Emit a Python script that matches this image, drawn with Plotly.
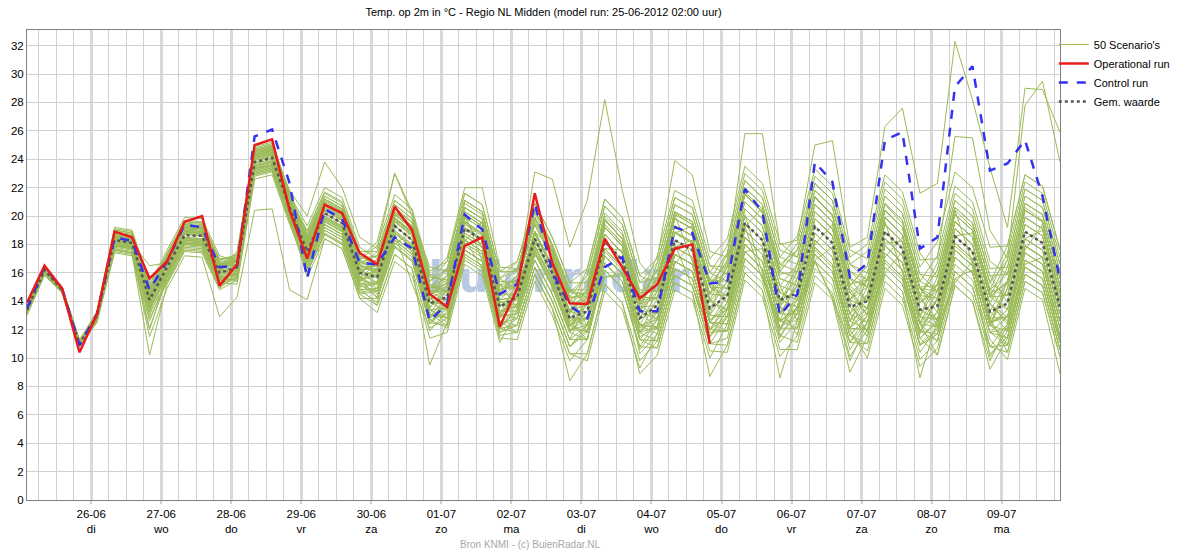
import pandas as pd
import plotly.graph_objects as go

# ---------------- data ----------------
run_start = "2012-06-25 02:00"
n_steps = 60
step = "6h"

day_labels = ["26-06", "27-06", "28-06", "29-06", "30-06", "01-07", "02-07",
              "03-07", "04-07", "05-07", "06-07", "07-07", "08-07", "09-07"]
day_dates = ["2012-06-26", "2012-06-27", "2012-06-28", "2012-06-29", "2012-06-30",
             "2012-07-01", "2012-07-02", "2012-07-03", "2012-07-04", "2012-07-05",
             "2012-07-06", "2012-07-07", "2012-07-08", "2012-07-09"]
weekday_labels = ["di", "wo", "do", "vr", "za", "zo", "ma",
                  "di", "wo", "do", "vr", "za", "zo", "ma"]

operational = [13.9, 16.5, 14.9, 10.4, 13.1, 18.9, 18.5, 15.6, 16.8, 19.6, 20.0, 15.1,
               16.6, 25.0, 25.4, 20.4, 17.0, 20.8, 20.2, 17.4, 16.6, 20.65, 19.0, 14.5,
               13.6, 17.9, 18.5, 12.2, 14.9, 21.6, 16.7, 13.85, 13.8, 18.4, 16.4, 14.2,
               15.2, 17.7, 18.0, 11.0]

control = [13.5, 16.4, 14.9, 10.9, 13.1, 18.5, 18.25, 14.8, 16.8, 19.4, 19.2, 16.4,
           16.5, 25.6, 26.1, 22.3, 15.6, 20.5, 19.8, 16.7, 16.6, 18.5, 17.7, 12.6,
           13.85, 20.1, 19.05, 14.5, 15.2, 20.9, 16.1, 13.7, 12.8, 16.4, 17.1, 13.3,
           13.3, 19.2, 18.8, 15.25, 15.4, 21.9, 20.3, 13.0, 14.5, 23.8, 22.4, 15.7,
           16.65, 25.35, 25.9, 17.7, 18.5, 29.1, 30.55, 23.2, 23.7, 25.35, 21.4, 15.5]

ens_mean = [13.4, 16.2, 14.8, 11.0, 13.0, 18.3, 18.1, 14.1, 16.4, 18.65, 18.6, 16.0,
            16.4, 23.8, 24.1, 20.6, 17.5, 20.2, 19.5, 16.0, 15.7, 19.3, 18.3, 13.85,
            14.3, 19.1, 18.3, 13.6, 14.3, 18.4, 16.0, 12.8, 13.3, 18.2, 16.9, 12.8,
            13.7, 18.3, 17.6, 13.5, 14.4, 19.5, 18.3, 14.1, 14.55, 19.25, 18.1, 13.6,
            14.0, 18.9, 17.7, 13.4, 13.65, 18.55, 17.5, 13.25, 13.85, 18.9, 18.1, 13.6]

scenarios = [
    [13.5,16.3,14.9,11.1, 13.2,18.9,18.7,14.8, 16.9,19.2,19.1,16.6, 16.9,24.5,24.8,21.5, 18.3,21.0,20.3,16.9, 16.4,20.3,19.2,14.9, 15.2,20.3,19.5,14.8, 15.3,19.8,17.3,14.2, 14.6,19.8,18.4,14.3, 15.1,20.2,19.4,15.3, 16.0,21.6,20.2,15.9, 16.1,21.4,20.0,15.2, 15.5,20.8,19.5,15.0, 15.1,20.4,19.2,14.6, 15.2,20.6,19.7,15.0],
    [13.3,16.1,14.8,10.9, 12.9,18.0,17.8,13.5, 15.9,18.2,18.1,15.4, 16.0,23.4,23.6,19.9, 16.7,19.4,18.7,15.1, 14.7,18.3,17.3,12.8, 13.8,18.6,17.8,13.0, 13.1,17.2,16.3,12.6, 11.3,16.2,14.9,10.6, 12.2,18.0,15.0,11.8, 11.9,17.0,15.8,11.4, 13.6,16.9,17.8,14.0, 11.8,16.7,15.5,11.0, 12.0,15.6,16.2,10.1, 11.9,16.9,16.1,11.4],
    [13.5,16.3,14.9,11.2, 13.2,18.8,18.6,14.8, 16.7,19.0,18.9,16.4, 17.0,24.4,24.7,21.5, 18.7,21.4,20.7,17.2, 16.5,20.1,19.1,14.7, 15.8,20.6,19.8,15.1, 14.8,18.9,16.5,13.3, 12.8,17.7,16.4,12.3, 14.7,19.3,18.6,14.5, 16.4,21.5,20.3,16.1, 17.6,22.3,21.1,16.6, 15.5,20.4,19.2,14.9, 14.2,19.1,18.0,13.8, 12.9,17.9,17.1,12.6],
    [13.2,16.0,14.7,10.9, 12.7,17.7,17.4,12.1, 15.6,17.9,17.8,15.2, 16.2,23.6,23.9,21.0, 17.9,20.6,19.9,15.5, 15.2,18.8,17.8,12.7, 13.1,17.9,17.1,12.4, 14.3,18.4,16.0,12.8, 14.3,19.2,17.9,13.8, 12.7,17.3,16.6,12.5, 13.9,19.0,17.8,13.6, 16.1,20.8,19.6,15.1, 16.5,21.4,20.2,15.9, 14.7,19.6,18.5,14.3, 14.4,19.4,18.6,14.1],
    [13.4,16.2,14.8,11.0, 13.1,18.5,18.3,14.3, 17.0,19.3,19.2,16.6, 17.3,24.7,25.0,21.5, 19.3,22.0,21.3,17.8, 17.0,20.6,19.6,15.2, 14.7,18.2,19.6,15.2, 13.5,17.6,15.2,12.0, 11.9,15.7,16.0,10.3, 11.7,16.3,15.6,11.5, 13.4,20.1,16.0,11.9, 14.6,19.3,18.1,13.6, 12.5,16.0,17.5,13.0, 15.7,20.6,19.5,15.3, 16.9,21.9,21.1,16.6],
    [13.3,16.1,14.7,10.9, 12.9,18.1,17.9,13.8, 16.5,18.8,18.7,16.1, 15.8,23.2,23.5,19.6, 16.0,18.7,18.0,14.5, 13.7,17.3,16.3,9.5, 12.5,17.3,16.5,11.8, 12.3,16.4,14.0,10.8, 12.3,17.2,15.9,11.8, 14.2,18.8,18.1,14.0, 15.4,20.5,19.3,15.1, 12.6,17.3,16.1,11.6, 13.0,17.9,16.7,12.4, 11.2,16.1,15.0,10.8, 10.4,15.4,14.6,10.1],
    [13.5,16.3,14.9,11.1, 13.1,18.7,18.5,14.9, 17.1,19.4,19.3,16.7, 16.7,24.1,24.4,21.5, 18.4,21.1,20.4,16.9, 17.9,21.5,20.5,16.1, 16.8,21.6,20.8,16.1, 16.1,20.2,17.8,14.6, 15.8,20.7,19.4,15.3, 16.7,21.3,20.6,16.5, 15.9,21.0,19.8,15.6, 15.1,19.8,18.6,14.1, 13.5,18.4,17.2,12.9, 12.7,17.6,16.5,12.3, 15.4,20.4,19.6,15.1],
    [13.1,15.9,14.7,10.8, 12.6,17.5,17.3,10.2, 15.2,17.5,17.4,14.8, 15.5,22.9,23.2,19.7, 17.0,19.7,19.0,15.5, 15.9,18.0,18.9,12.8, 14.0,18.8,18.0,13.3, 13.7,17.8,15.4,12.2, 13.8,18.7,17.4,13.3, 12.0,17.8,18.3,14.2, 12.9,18.0,16.8,12.6, 13.4,16.8,14.2,11.1, 11.0,15.9,14.7,10.4, 12.2,17.1,16.0,11.8, 12.1,18.4,19.0,14.5],
    [13.6,16.4,15.0,11.2, 13.3,19.2,19.0,15.3, 16.8,19.1,19.0,16.4, 17.5,24.9,25.2,21.7, 17.7,20.4,19.7,16.2, 15.3,18.9,17.9,13.5, 15.1,19.9,19.1,14.4, 15.5,23.1,22.6,17.8, 21.1,28.2,21.8,16.7, 15.2,19.8,19.1,15.0, 14.4,19.5,18.3,14.1, 13.6,18.3,17.1,12.6, 14.5,19.4,18.2,13.9, 15.2,20.1,19.0,14.8, 15.9,20.9,20.1,15.6],
    [13.4,16.2,14.8,11.0, 13.0,18.3,18.1,14.1, 16.2,18.5,18.4,15.8, 16.9,24.3,24.6,21.1, 16.7,19.4,18.7,15.2, 14.3,17.9,16.9,12.5, 12.3,17.1,16.3,11.6, 11.8,15.9,13.5,10.3, 10.3,15.2,13.9,9.8, 11.2,15.8,15.1,11.0, 10.9,16.0,14.8,10.6, 10.6,15.3,14.1,9.0, 11.5,16.4,15.2,10.9, 11.7,16.6,15.5,11.3, 9.9,14.9,14.1,8.9],
    [13.5,16.3,14.9,11.1, 13.2,18.8,18.6,14.8, 17.3,19.6,19.5,16.9, 17.1,24.5,24.8,21.4, 18.1,20.8,20.1,16.6, 16.0,19.6,18.6,14.2, 13.5,18.3,17.5,12.8, 14.7,18.8,16.4,13.2, 14.8,19.7,18.4,14.3, 16.2,20.8,20.1,16.0, 17.9,23.0,21.8,17.6, 17.1,21.8,20.6,16.1, 15.0,19.9,18.7,14.4, 16.7,21.6,20.5,16.3, 16.4,21.4,20.6,16.1],
    [13.2,16.0,14.7,10.9, 12.9,18.0,17.8,13.5, 15.8,18.1,18.0,15.4, 16.3,23.7,24.0,20.5, 17.7,20.4,19.7,16.2, 16.3,19.9,18.9,14.5, 15.3,20.1,19.3,14.6, 15.8,19.9,17.5,14.3, 14.3,19.2,17.9,13.8, 15.5,20.1,19.4,15.3, 16.6,21.7,20.5,16.3, 18.1,22.8,21.6,17.1, 18.0,22.9,21.7,17.4, 15.7,20.6,19.5,15.3, 17.9,22.9,22.1,17.6],
    [13.5,16.3,14.9,11.1, 13.1,18.6,18.4,14.6, 16.9,19.2,19.1,16.5, 17.2,24.6,24.9,21.4, 18.5,21.2,20.5,17.0, 17.2,20.8,19.8,15.4, 16.3,21.1,20.3,15.6, 16.8,20.9,18.5,15.3, 16.3,21.2,19.9,15.8, 17.0,23.9,22.9,17.5, 17.1,25.8,25.8,18.0, 18.3,25.0,25.3,17.8, 18.5,26.3,27.6,21.6, 22.3,32.3,28.2,23.4, 19.2,29.0,28.9,25.9],
    [13.4,16.2,14.8,11.0, 13.0,18.4,18.2,14.2, 16.6,18.9,18.8,16.2, 16.1,23.5,23.8,20.3, 17.2,19.9,19.2,15.7, 16.2,19.8,18.8,14.4, 15.1,19.9,19.1,14.4, 14.6,18.7,16.3,13.1, 14.5,19.4,18.1,14.0, 14.3,18.9,18.2,14.1, 16.4,21.5,20.3,16.1, 17.6,22.3,21.1,16.6, 17.5,22.4,21.2,16.9, 17.0,25.6,25.5,19.0, 17.0,27.8,29.5,23.8],
    [13.2,16.0,14.6,10.9, 12.8,17.9,17.7,13.3, 16.1,18.4,18.3,15.7, 15.4,22.8,23.1,19.6, 16.9,19.6,18.9,15.4, 16.3,19.9,18.9,14.5, 15.5,20.3,19.5,14.8, 15.1,18.0,17.9,12.3, 12.8,17.7,16.4,12.3, 12.2,16.8,16.1,12.0, 13.6,17.5,17.7,12.1, 13.1,17.8,16.6,12.1, 13.5,19.6,16.0,11.7, 14.2,19.1,18.0,13.8, 12.4,17.4,16.6,12.1],
    [13.0,15.8,14.6,10.8, 12.5,17.6,17.4,11.5, 14.9,17.2,17.1,12.9, 14.3,20.4,20.5,14.8, 14.1,18.4,17.7,14.2, 14.2,17.8,16.8,12.4, 13.5,18.3,17.5,12.8, 14.8,18.9,16.5,13.3, 14.8,19.7,18.4,14.3, 14.2,18.8,18.1,14.0, 13.4,18.5,17.3,13.1, 14.1,18.8,17.6,13.1, 15.5,20.4,19.2,14.9, 13.7,18.6,17.5,13.3, 11.9,16.9,16.1,11.6],
    [13.6,16.4,15.0,11.3, 13.2,19.0,18.8,15.0, 17.4,19.7,19.6,17.0, 17.1,24.5,24.8,21.8, 20.0,23.8,22.0,18.5, 17.7,23.0,20.3,15.9, 15.3,20.1,19.3,14.6, 14.3,18.4,16.0,12.8, 12.3,17.2,15.9,11.8, 11.2,15.8,15.1,11.0, 11.4,16.5,15.3,11.1, 12.6,17.3,16.1,11.6, 13.0,17.9,16.7,12.4, 13.2,18.1,17.0,12.8, 14.9,19.9,19.1,14.6],
    [13.3,16.1,14.8,10.9, 12.9,18.1,17.9,13.7, 15.5,17.8,17.7,15.1, 15.9,23.3,23.6,20.1, 16.5,19.2,18.5,15.0, 15.2,18.8,17.8,13.4, 12.8,17.6,16.8,12.1, 11.8,15.9,13.5,8.4, 10.3,15.2,13.9,8.9, 10.2,14.8,14.1,10.0, 12.4,17.5,16.3,12.1, 12.1,16.8,15.6,11.1, 13.0,17.9,16.7,12.4, 10.2,15.1,14.0,9.2, 11.4,16.4,15.6,11.1],
    [13.5,16.3,14.9,11.1, 13.1,18.6,18.4,14.5, 16.6,18.9,18.8,16.2, 16.8,24.2,24.5,21.1, 18.2,20.9,20.2,16.7, 17.2,20.8,19.8,15.4, 16.8,21.6,20.8,16.1, 16.8,20.9,18.5,15.3, 15.3,20.2,18.9,14.8, 14.7,19.3,18.6,14.5, 15.9,21.0,19.8,15.6, 15.1,19.8,18.6,14.1, 16.0,20.9,19.7,15.4, 14.7,19.6,18.5,14.3, 16.9,21.9,21.1,16.6],
    [13.2,16.0,14.7,10.8, 12.6,17.4,17.2,12.0, 15.8,18.1,18.0,15.4, 15.7,23.1,23.4,19.9, 17.3,20.0,19.3,15.8, 14.9,18.5,17.5,13.1, 12.3,18.4,16.3,12.4, 12.8,16.9,14.5,11.3, 12.3,17.2,15.9,11.8, 13.2,16.6,18.2,13.0, 14.9,20.0,18.8,14.6, 14.1,18.8,17.6,13.1, 11.5,16.4,15.2,10.9, 11.7,17.9,16.8,12.6, 12.9,17.9,17.1,12.6],
    [13.4,16.2,14.8,11.0, 13.0,18.4,18.2,14.2, 16.0,18.3,18.2,15.6, 16.6,24.0,24.3,20.8, 17.8,20.5,19.8,16.3, 16.6,20.2,19.2,14.8, 14.4,19.2,18.4,13.7, 13.8,17.9,15.5,12.3, 13.8,18.7,17.4,13.3, 16.7,21.3,20.6,16.5, 16.4,21.5,20.3,16.1, 15.6,20.3,19.1,14.6, 13.5,18.4,17.2,12.9, 15.2,20.1,19.0,14.8, 14.4,19.4,18.6,14.1],
    [13.3,16.1,14.8,10.9, 12.9,17.9,17.7,13.6, 16.9,19.2,19.1,16.5, 16.1,23.5,23.8,20.3, 16.3,19.0,18.3,14.8, 14.9,18.5,17.5,13.1, 14.8,19.6,18.8,14.1, 15.3,19.4,17.0,13.8, 11.8,16.7,15.4,11.3, 10.7,15.3,14.6,8.7, 10.9,16.0,14.8,8.6, 12.6,17.3,16.1,11.6, 11.0,15.9,14.7,8.6, 12.7,17.6,16.5,12.3, 11.9,16.9,16.1,11.6],
    [13.5,16.4,15.0,11.2, 13.2,18.8,18.6,14.7, 17.0,19.3,19.2,16.6, 16.8,24.2,24.5,21.1, 18.5,21.2,20.5,17.0, 18.2,23.0,20.0,16.4, 16.1,20.9,20.1,15.4, 15.3,19.4,17.0,13.8, 14.8,19.7,18.4,14.3, 14.2,18.8,18.1,14.0, 13.4,18.5,17.3,13.1, 15.1,19.8,18.6,14.1, 15.5,20.4,19.2,14.9, 13.2,18.1,17.0,12.8, 12.9,17.9,17.1,12.6],
    [13.3,16.1,14.7,11.0, 12.9,18.0,17.8,13.6, 15.7,18.0,17.9,15.3, 15.6,23.0,23.3,19.8, 15.7,18.4,17.7,14.2, 13.2,16.8,15.8,11.4, 11.8,16.6,15.8,11.1, 13.3,17.4,15.0,11.8, 14.3,19.2,17.9,13.8, 15.7,20.3,19.6,15.5, 15.4,20.5,19.3,15.1, 16.6,21.3,20.1,15.6, 15.0,19.9,18.7,14.4, 12.2,17.1,16.0,11.8, 10.9,15.9,15.1,10.6],
    [13.4,16.3,14.9,11.1, 13.1,18.5,18.3,14.4, 17.2,19.5,19.4,16.8, 16.9,24.3,24.6,21.1, 17.7,20.4,19.7,16.2, 15.7,19.3,18.3,13.9, 13.3,18.1,17.3,12.6, 12.3,16.4,14.0,10.8, 12.0,15.7,15.8,11.5, 12.2,16.8,16.1,12.0, 13.9,19.0,17.8,13.6, 11.6,17.6,16.4,12.0, 10.0,14.9,13.7,9.4, 10.7,15.6,14.5,10.3, 11.5,16.6,17.1,11.2],
    [13.4,16.2,14.8,11.0, 13.0,18.3,18.1,16.5, 16.7,19.0,18.9,16.3, 16.6,24.0,24.3,20.8, 17.1,19.8,19.1,15.6, 16.7,20.3,19.3,14.9, 16.3,21.1,20.3,15.6, 16.3,20.4,18.0,14.8, 14.3,19.2,17.9,13.8, 15.7,20.3,19.6,15.5, 17.4,22.5,21.3,17.1, 16.6,21.3,20.1,15.6, 14.0,18.9,17.7,13.4, 12.7,17.6,16.5,12.3, 14.9,19.9,19.1,14.6],
    [13.2,16.0,14.7,10.9, 12.8,17.8,17.6,13.0, 16.0,18.3,18.2,15.6, 15.8,23.2,23.5,20.0, 17.2,19.9,19.2,15.7, 14.2,17.8,16.8,12.4, 13.8,18.6,17.8,13.1, 12.8,16.9,14.5,11.3, 11.3,16.2,14.9,10.8, 12.7,17.3,16.6,12.5, 11.9,17.0,15.8,11.6, 13.1,17.8,16.6,12.1, 14.5,19.4,18.2,13.9, 14.7,19.6,18.5,14.3, 15.4,20.4,19.6,15.1],
    [13.5,16.3,14.9,11.1, 13.1,18.6,18.4,14.6, 16.6,18.9,18.8,16.2, 17.2,24.8,25.1,21.5, 18.0,20.7,20.0,16.5, 16.0,19.6,18.6,14.2, 14.8,19.6,18.8,14.1, 14.3,18.4,16.0,12.8, 13.8,18.7,17.4,13.3, 13.2,17.8,17.1,13.0, 12.9,18.0,16.8,12.6, 12.1,16.8,15.6,11.1, 12.5,17.4,16.2,11.9, 14.2,19.1,18.0,13.8, 16.4,21.4,20.6,16.1],
    [13.4,16.2,14.8,11.0, 13.0,18.2,18.0,13.9, 16.1,18.4,18.3,15.7, 16.7,24.1,24.4,20.9, 16.9,19.6,18.9,15.4, 16.1,19.7,18.7,14.3, 12.8,17.6,16.8,12.1, 13.8,17.9,15.5,12.3, 13.3,18.2,16.9,12.8, 15.2,19.8,19.1,15.0, 14.9,20.0,18.8,14.6, 16.1,20.8,19.6,15.1, 16.5,21.4,20.2,15.9, 15.7,20.6,19.5,15.3, 14.4,19.4,18.6,14.1],
    [13.5,16.3,14.9,11.1, 13.2,19.1,18.9,15.2, 17.6,19.9,19.8,17.2, 16.8,24.2,24.5,21.0, 17.3,20.0,19.3,15.8, 14.7,18.3,17.3,12.9, 14.3,19.1,18.3,13.6, 14.8,17.6,17.8,11.9, 12.8,17.7,16.4,12.3, 11.7,16.3,15.6,11.5, 12.9,19.3,15.5,12.6, 13.6,18.3,17.1,12.6, 12.0,16.9,15.7,11.4, 12.5,18.6,18.8,14.6, 13.4,18.4,17.6,13.1],
    [13.2,16.0,14.7,10.9, 12.8,17.9,17.7,13.2, 15.4,17.7,17.6,15.0, 15.7,23.1,23.4,19.9, 18.3,21.0,20.3,16.8, 16.2,19.8,18.8,14.4, 15.3,20.1,19.3,14.6, 15.8,19.9,17.5,14.3, 15.8,20.7,19.4,15.3, 15.7,20.3,19.6,15.5, 14.9,20.0,18.8,14.6, 14.1,18.8,17.6,13.1, 12.5,17.4,16.2,11.9, 11.2,16.1,15.0,10.8, 10.9,15.9,15.1,10.6],
    [13.4,16.2,14.8,11.0, 13.1,18.6,18.4,14.4, 16.4,18.7,18.6,16.0, 16.2,23.6,23.9,20.4, 16.5,19.2,18.5,15.0, 13.7,17.3,16.3,11.9, 13.3,18.1,17.3,12.6, 11.8,15.9,13.5,10.3, 9.8,14.7,13.4,9.3, 11.7,16.3,15.6,11.5, 13.4,18.5,17.3,13.1, 15.1,19.8,18.6,14.1, 15.0,19.9,18.7,14.4, 16.2,21.1,20.0,15.8, 15.9,20.9,20.1,15.6],
    [13.4,16.2,14.8,11.0, 13.0,18.4,18.2,14.2, 16.8,19.1,19.0,16.4, 17.0,24.4,24.7,21.2, 18.7,21.4,20.7,17.2, 16.5,20.1,19.1,14.7, 14.0,18.8,18.0,13.3, 13.3,17.4,15.0,11.8, 13.3,18.2,16.9,12.8, 13.2,17.8,17.1,13.0, 16.9,22.0,20.8,16.6, 16.1,20.8,19.6,15.1, 14.0,18.9,17.7,13.4, 12.7,17.6,16.5,12.3, 11.4,16.4,15.6,11.1],
    [13.3,16.1,14.8,10.9, 12.9,18.0,17.8,13.6, 15.9,18.2,18.1,15.5, 16.1,23.5,23.8,20.3, 17.1,19.8,19.1,15.6, 15.7,19.3,18.3,13.9, 13.8,19.9,17.7,13.0, 14.8,18.9,16.5,13.3, 14.3,19.2,17.9,13.8, 14.2,20.1,16.8,12.7, 13.4,18.5,17.3,13.1, 13.1,17.8,16.6,12.1, 13.2,18.1,18.2,12.5, 14.7,19.6,18.5,14.3, 13.4,18.4,17.6,13.1],
    [13.5,16.3,14.9,11.1, 13.2,18.8,18.6,14.8, 16.4,18.7,18.6,16.0, 17.2,24.6,24.9,21.4, 18.9,21.6,20.9,17.4, 16.7,20.3,19.3,14.9, 15.8,20.6,19.8,15.1, 15.5,19.6,17.2,14.0, 15.1,20.0,18.7,14.6, 14.7,19.3,18.6,14.5, 14.4,19.5,18.3,14.1, 15.6,20.3,19.1,14.6, 15.5,20.4,19.2,14.9, 13.7,18.6,17.5,13.3, 15.4,20.4,19.6,15.1],
    [13.1,15.9,14.6,10.8, 12.7,17.6,17.4,12.6, 15.7,18.0,17.9,15.3, 15.2,22.6,22.9,19.4, 16.3,19.0,18.3,14.8, 13.9,18.8,15.2,12.1, 12.8,17.6,16.8,12.1, 12.3,16.4,14.0,10.8, 11.8,16.7,15.4,11.3, 12.7,17.3,16.6,12.5, 12.4,17.5,16.3,12.1, 13.6,18.3,17.1,12.6, 13.5,18.4,17.2,12.9, 12.2,17.1,16.0,11.8, 11.4,16.4,15.6,11.1],
    [13.4,16.2,14.8,11.0, 13.1,18.5,18.3,14.4, 16.9,19.2,19.1,16.5, 16.5,23.9,24.2,20.7, 17.5,20.2,19.5,16.0, 15.2,18.8,17.8,13.4, 12.5,17.3,16.5,11.8, 12.8,16.9,14.5,11.3, 14.0,17.7,17.6,13.6, 13.7,18.3,17.6,13.5, 15.4,20.5,19.3,15.1, 14.6,18.0,19.4,14.9, 13.0,17.9,16.7,12.4, 14.2,19.1,18.0,13.8, 12.6,17.6,19.4,13.6],
    [13.6,16.3,14.9,11.1, 13.2,18.8,18.6,14.9, 17.3,19.6,19.5,16.9, 17.3,24.7,25.0,21.5, 17.8,20.5,19.8,16.3, 17.5,21.1,20.1,15.7, 17.1,22.0,22.0,16.4, 16.3,20.4,18.0,14.8, 13.8,18.7,17.4,13.3, 12.7,17.3,16.6,12.5, 12.4,17.5,16.3,12.1, 14.1,18.8,17.6,13.1, 14.5,19.4,18.2,13.9, 15.2,20.1,19.0,14.8, 17.4,22.4,21.6,17.1],
    [13.4,16.2,14.8,11.0, 13.0,18.2,18.0,13.9, 16.1,18.4,18.3,15.7, 15.9,23.3,23.6,20.1, 16.7,19.4,18.7,15.2, 15.2,18.8,17.8,13.4, 13.5,18.3,17.5,12.8, 13.8,17.9,15.5,12.3, 11.8,16.7,15.4,11.3, 11.2,15.8,15.1,11.0, 12.9,18.0,16.8,12.6, 12.6,17.3,16.1,11.6, 10.5,15.4,14.2,9.9, 11.2,16.1,15.0,10.8, 12.4,17.4,16.6,12.1],
    [13.5,16.2,14.8,11.0, 13.1,18.6,18.4,14.5, 16.5,18.8,18.7,16.1, 16.9,24.3,24.6,21.1, 18.5,21.2,20.5,17.0, 15.7,19.3,18.3,13.9, 13.8,18.6,17.8,13.1, 15.3,19.4,17.0,13.8, 13.8,18.7,17.4,13.3, 15.2,19.8,19.1,15.0, 16.9,22.0,20.8,16.6, 17.6,22.3,21.1,16.6, 16.0,20.9,19.7,15.4, 17.2,22.1,21.0,16.8, 15.9,20.9,20.1,15.6],
    [13.2,16.0,14.7,10.9, 12.8,17.7,17.5,12.8, 15.3,17.6,17.5,14.9, 16.0,23.4,23.7,20.2, 16.9,19.6,18.9,15.4, 14.5,18.1,17.1,12.7, 12.1,16.9,16.1,11.4, 11.3,15.4,13.0,9.8, 11.3,16.2,14.9,10.8, 10.7,15.3,14.6,10.5, 10.4,15.5,14.3,10.1, 11.6,16.3,15.1,10.6, 12.5,17.4,16.2,11.9, 13.2,18.1,17.0,12.8, 10.4,15.4,14.6,10.1],
    [13.5,16.3,14.9,11.1, 13.1,18.7,18.5,14.7, 17.0,19.3,19.2,16.6, 16.6,24.0,24.3,20.8, 17.7,20.4,19.7,16.2, 16.5,20.1,19.1,14.7, 14.7,19.5,18.7,14.0, 13.5,18.9,17.7,14.6, 14.5,19.4,18.1,14.0, 16.2,20.8,20.1,16.0, 15.4,19.2,20.6,13.8, 16.6,21.3,20.1,15.6, 15.0,19.9,18.7,14.4, 14.2,20.4,16.7,12.5, 12.9,17.9,17.1,12.6],
    [13.3,16.1,14.8,10.9, 12.9,18.1,17.9,13.8, 16.6,18.9,18.8,16.2, 15.9,23.3,23.6,20.1, 16.0,18.7,18.0,14.5, 14.7,18.3,17.3,12.9, 14.3,19.1,18.3,13.6, 14.8,18.9,16.5,13.3, 16.3,21.2,19.9,15.8, 15.2,19.8,19.1,15.0, 13.9,19.0,17.8,13.6, 13.1,17.8,16.6,12.1, 12.0,16.9,15.7,11.4, 10.2,15.1,14.0,9.8, 12.4,17.4,16.6,12.1],
    [13.6,16.4,15.0,11.2, 13.2,19.0,18.8,15.1, 16.6,18.9,18.8,16.2, 17.0,24.4,24.7,21.2, 19.0,21.7,21.0,17.5, 17.5,21.1,20.1,15.7, 15.5,20.3,19.5,14.8, 15.8,19.9,17.5,14.3, 12.3,17.2,15.9,11.8, 12.2,16.8,16.1,12.0, 11.9,17.0,15.8,11.6, 11.1,15.8,14.6,10.1, 12.0,16.9,15.7,11.4, 12.7,17.6,16.5,12.3, 13.4,18.4,17.6,13.1],
    [13.3,16.1,14.8,11.0, 12.9,17.9,17.7,13.4, 16.2,18.5,18.4,15.8, 16.4,23.8,24.1,20.6, 17.5,20.2,19.5,16.0, 16.0,19.6,18.6,14.2, 14.1,20.2,16.8,12.1, 13.5,17.6,15.2,12.0, 12.3,17.2,15.9,11.8, 12.9,18.8,19.3,15.3, 13.9,19.0,17.8,13.6, 15.1,19.8,18.6,14.1, 13.5,17.1,18.5,14.2, 12.7,17.6,16.5,12.3, 14.9,19.9,19.1,14.6],
    [13.4,16.2,14.8,11.0, 13.0,18.4,18.2,14.2, 15.8,18.1,18.0,15.4, 16.7,24.1,24.4,20.9, 18.1,20.8,20.1,16.6, 16.9,20.5,19.5,15.1, 14.6,19.4,18.6,13.9, 14.1,18.2,15.8,12.6, 12.8,17.7,16.4,12.3, 12.7,17.3,16.6,12.5, 14.4,19.5,18.3,14.1, 13.6,18.3,17.1,12.6, 15.0,19.9,18.7,14.4, 16.2,21.1,20.0,15.8, 13.9,18.9,18.1,13.6],
    [13.2,16.0,14.7,10.9, 12.8,17.9,17.7,13.3, 17.1,19.4,19.3,16.7, 15.6,23.0,23.3,19.8, 16.7,19.4,18.7,15.2, 15.4,19.0,18.0,13.6, 14.8,19.6,18.8,14.1, 14.3,18.4,16.0,12.8, 12.8,17.7,16.4,12.3, 12.2,16.8,16.1,12.0, 12.9,18.0,16.8,12.6, 15.6,20.3,19.1,14.6, 13.0,17.9,16.7,12.4, 12.2,17.1,16.0,11.8, 12.9,17.9,17.1,12.6],
    [13.4,16.2,14.9,11.0, 13.1,18.5,18.3,14.4, 16.7,19.0,18.9,16.3, 17.2,24.6,24.9,21.4, 18.0,20.7,20.0,16.5, 16.2,19.8,18.8,14.4, 15.8,20.6,19.8,15.1, 16.3,20.4,18.0,14.8, 14.8,19.7,18.4,14.3, 17.2,21.8,21.1,17.0, 18.4,23.5,22.3,18.1, 17.1,21.8,20.6,16.1, 15.5,20.4,19.2,14.9, 14.7,19.6,18.5,14.3, 15.4,20.4,19.6,15.1],
    [13.3,16.1,14.8,10.9, 12.9,18.0,17.8,13.6, 16.0,18.3,18.2,15.6, 15.5,22.9,23.2,19.7, 16.1,18.8,18.1,14.6, 14.9,18.5,17.5,13.1, 12.8,17.6,16.8,12.1, 13.3,17.4,15.0,11.8, 11.3,17.5,16.2,12.1, 13.2,17.8,17.1,13.0, 12.9,18.0,16.8,12.6, 13.4,16.8,14.3,9.8, 12.5,17.4,16.2,11.9, 11.7,15.3,16.8,12.6, 10.9,15.9,15.1,10.6],
    [13.4,16.2,14.8,11.0, 13.0,18.3,18.1,14.1, 16.9,19.2,19.1,16.5, 16.9,24.3,24.6,21.1, 17.5,20.2,19.5,16.0, 16.7,20.3,19.3,14.9, 16.3,21.1,20.3,15.6, 14.8,18.9,16.5,13.3, 13.8,18.7,17.4,13.3, 14.7,19.3,18.6,14.5, 17.4,22.5,21.3,17.1, 18.6,23.3,22.1,17.6, 17.0,21.9,20.7,16.4, 18.2,23.1,22.0,17.8, 17.9,22.9,22.1,17.6],
]

# ---------------- figure ----------------
times = pd.date_range(run_start, periods=n_steps, freq=step)
tick_text = [f"{d}<br>{w}" for d, w in zip(day_labels, weekday_labels)]

FONT = "Liberation Sans, Arial, sans-serif"
GREEN = "#9BBB59"

fig = go.Figure()

for i, member in enumerate(scenarios):
    fig.add_trace(go.Scatter(
        x=times, y=member, mode="lines",
        line=dict(color=GREEN, width=1),
        name="50 Scenario's", legendgroup="ens", legendrank=1,
        showlegend=(i == 0), hoverinfo="skip"))

fig.add_trace(go.Scatter(
    x=times, y=ens_mean, mode="lines",
    line=dict(color="#555555", width=2.5, dash="dot"),
    name="Gem. waarde", legendrank=4, hoverinfo="skip"))

fig.add_trace(go.Scatter(
    x=times, y=control, mode="lines",
    line=dict(color="#3333EE", width=2.5, dash="dash"),
    name="Control run", legendrank=3, hoverinfo="skip"))

fig.add_trace(go.Scatter(
    x=times[:len(operational)], y=operational, mode="lines",
    line=dict(color="#E81C1C", width=2.5),
    name="Operational run", legendrank=2, hoverinfo="skip"))

fig.update_layout(
    width=1180, height=550,
    margin=dict(l=27, r=120, t=30, b=50, autoexpand=False),
    paper_bgcolor="white", plot_bgcolor="white",
    font=dict(family=FONT, size=11, color="#000000"),
    title=dict(text="Temp. op 2m in °C - Regio NL Midden (model run: 25-06-2012 02:00 uur)",
               x=0.5, xref="paper", xanchor="center",
               y=1 - 12 / 550, yref="container", yanchor="middle",
               font=dict(family=FONT, size=11, color="#000000")),
    showlegend=True,
    legend=dict(x=0.994, xanchor="left", y=1.0, yanchor="top",
                bgcolor="rgba(0,0,0,0)", borderwidth=0,
                font=dict(family=FONT, size=11, color="#000000"),
                itemwidth=30, tracegroupgap=0),
    shapes=[dict(type="rect", xref="paper", yref="paper",
                 x0=0.37, x1=0.66, y0=0.42, y1=0.54, layer="between",
                 line=dict(width=0), fillcolor="rgba(0,0,0,0)",
                 label=dict(text="<b>buienradar</b>",
                            font=dict(family="DejaVu Sans, sans-serif", size=42,
                                      color="rgba(120,155,205,0.55)"),
                            textposition="middle center"))],
    annotations=[dict(text="Bron KNMI - (c) BuienRadar.NL",
                      xref="paper", yref="paper", x=0.487, y=-0.094,
                      xanchor="center", yanchor="middle", showarrow=False,
                      font=dict(family=FONT, size=10, color="#A8A8A8"))],
)

fig.update_xaxes(
    type="date",
    range=[times[0], times[-1]],
    tickvals=pd.to_datetime(day_dates), ticktext=tick_text,
    showgrid=True, gridcolor="#D9D9D9", gridwidth=2.5,
    minor=dict(dtick=6 * 3600 * 1000, tick0="2012-06-25 00:00",
               showgrid=True, gridcolor="#D0D0D0", gridwidth=1),
    ticks="outside", ticklen=3, tickwidth=2, tickcolor="#D0D0D0",
    showline=True, linecolor="#808080", linewidth=1, mirror=True,
    tickfont=dict(family=FONT, size=11.5, color="#000000"),
    zeroline=False,
)

fig.update_yaxes(
    range=[0, 33.1], tick0=0, dtick=2,
    showgrid=True, gridcolor="#D0D0D0", gridwidth=1,
    showline=True, linecolor="#808080", linewidth=1, mirror=True,
    ticks="", tickfont=dict(family=FONT, size=11.5, color="#000000"),
    zeroline=False,
)

fig.write_html(
    "out.html",
    config={"displayModeBar": False},
    post_script="document.body.style.margin='0px';document.body.style.padding='0px';",
)
